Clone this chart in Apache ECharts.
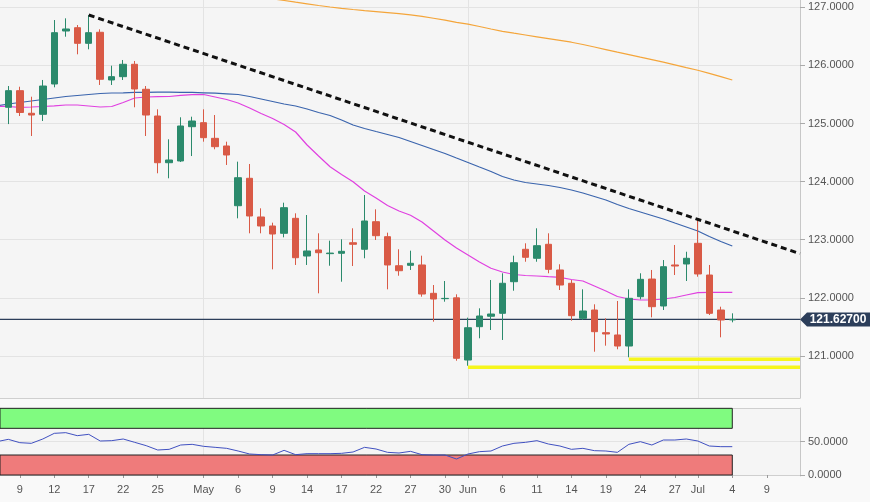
<!DOCTYPE html>
<html><head><meta charset="utf-8">
<script src="https://cdn.jsdelivr.net/npm/echarts@6/dist/echarts.min.js"></script>
<style>html,body{margin:0;padding:0;background:#f9f9f9}#c{width:870px;height:502px}</style>
</head><body><div id="c"></div><script>
// trading days (MM-DD, 2019)
const dates = ['04-05','04-08','04-09','04-10','04-11','04-12','04-15','04-16','04-17','04-18','04-19',
'04-22','04-23','04-24','04-25','04-26','04-29','04-30','05-01','05-02','05-03',
'05-06','05-07','05-08','05-09','05-10','05-13','05-14','05-15','05-16','05-17',
'05-20','05-21','05-22','05-23','05-24','05-27','05-28','05-29','05-30','05-31',
'06-03','06-04','06-05','06-06','06-07','06-10','06-11','06-12','06-13','06-14',
'06-17','06-18','06-19','06-20','06-21','06-24','06-25','06-26','06-27','06-28',
'07-01','07-02','07-03','07-04','07-05','07-08','07-09','07-10','07-11'];

const candleStart = '04-08';
const openP  = [125.279,125.565,125.176,125.158,125.680,126.592,126.649,126.380,126.570,125.749,
125.806,126.019,125.589,125.129,124.325,124.355,124.945,125.014,124.745,124.613,
123.585,124.057,123.391,123.236,123.110,123.368,122.719,122.823,122.760,122.766,
122.948,122.835,123.310,123.052,122.552,122.559,122.565,122.077,121.985,121.999,
120.929,121.503,121.682,121.733,122.277,122.835,122.680,122.921,122.479,122.250,
121.647,121.790,121.400,121.360,121.170,122.019,122.323,121.859,122.565,122.582,
122.938,122.392,121.790,121.620];
const closeP = [125.565,125.190,125.146,125.645,126.563,126.627,126.380,126.563,125.761,125.806,
126.019,125.594,125.146,124.325,124.372,124.957,125.043,124.756,124.601,124.458,
124.067,123.408,123.236,123.098,123.551,122.690,122.806,122.776,122.770,122.800,
122.921,123.322,123.069,122.565,122.466,122.594,122.065,121.979,121.990,120.959,
121.485,121.687,121.721,122.250,122.604,122.697,122.897,122.490,122.220,121.692,
121.773,121.417,121.377,121.170,121.991,122.318,121.847,122.535,122.547,122.680,
122.410,121.733,121.618,121.627];
const lowP   = [124.990,125.129,124.785,125.043,125.623,126.494,126.191,126.277,125.663,125.663,
125.749,125.279,124.785,124.143,124.057,124.337,124.440,124.687,124.556,124.286,
123.368,123.110,123.110,122.490,123.041,122.565,122.565,122.077,122.552,122.277,
122.547,122.680,122.995,122.146,122.380,122.479,122.019,121.589,121.933,120.917,
120.831,121.303,121.446,121.274,122.122,122.621,122.621,122.422,122.134,121.606,
121.618,121.072,121.176,121.114,120.976,121.974,121.664,121.790,122.392,122.289,
122.363,121.704,121.320,121.578];
const highP  = [125.645,125.633,125.461,125.749,126.781,126.810,126.695,126.867,126.621,125.995,
126.093,126.076,125.645,125.244,124.728,125.107,125.117,125.244,125.146,124.687,
124.343,124.303,123.540,123.293,123.637,123.454,123.425,123.110,122.983,123.007,
123.196,123.769,123.523,123.121,122.835,122.811,122.725,122.220,122.289,122.060,
121.658,121.819,122.306,122.422,122.725,122.938,123.196,123.110,122.577,122.306,
122.146,121.888,121.647,121.945,122.146,122.422,122.479,122.650,122.909,122.793,
123.339,122.565,121.847,121.733];

const maStart = '04-05';
const maFast = [125.293,125.293,125.279,125.284,125.293,125.305,125.318,125.318,125.301,125.284,
125.293,125.361,125.439,125.456,125.461,125.465,125.485,125.497,125.499,125.456,
125.413,125.353,125.267,125.172,125.086,124.983,124.854,124.630,124.441,124.256,
124.122,123.998,123.838,123.718,123.589,123.494,123.420,123.305,123.150,122.995,
122.857,122.737,122.616,122.508,122.444,122.401,122.384,122.375,122.363,122.353,
122.315,122.289,122.203,122.117,122.022,121.979,121.962,121.962,121.979,122.005,
122.048,122.088,122.095,122.095,122.095];
const maMid = [125.301,125.336,125.361,125.387,125.413,125.439,125.465,125.482,125.499,125.516,
125.525,125.528,125.534,125.537,125.539,125.539,125.537,125.534,125.528,125.522,
125.511,125.499,125.465,125.422,125.379,125.336,125.301,125.250,125.189,125.138,
125.060,124.974,124.914,124.862,124.811,124.759,124.690,124.621,124.552,124.484,
124.406,124.329,124.251,124.174,124.088,124.028,123.985,123.959,123.933,123.898,
123.855,123.804,123.744,123.683,123.606,123.537,123.477,123.417,123.356,123.287,
123.219,123.150,123.055,122.969,122.892];
const maSlowStart = '05-06';
const maSlow = [127.229,127.200,127.172,127.146,127.117,127.088,127.060,127.031,127.005,126.983,
126.962,126.943,126.926,126.909,126.892,126.869,126.843,126.812,126.778,126.742,
126.709,126.670,126.627,126.587,126.554,126.523,126.492,126.461,126.430,126.399,
126.360,126.317,126.272,126.227,126.186,126.141,126.100,126.055,126.010,125.962,
125.916,125.862,125.807,125.749];

const rsiStart = '04-05';
const rsi = [50,53.5,48.5,47.5,54,62.5,63.5,59,61,51,
51.5,54,49,44,37.5,38.5,45,46,43,41.5,
40,36,31.5,30.5,30,37,30.5,32,32,32,
32.5,34.5,41.5,39,34,33,35.5,30.5,30,30,
24,31.5,35,36,43.5,47.5,49,51.5,46.5,43.5,
38.5,40,36.5,36,34,46,50,45,52.5,52.5,
54,51,43.5,42.5,42.5];

const currentPrice = 121.627;
const trendStart = '04-17', trendStartValue = 126.867, trendEndValue = 122.76;
const supportA = {from: '06-03', value: 120.804};
const supportB = {from: '06-21', value: 120.942};
const bandEnd = '07-04';

const yTicks = [121,122,123,124,125,126,127];
const rsiTicks = [0,50];
const tickDates = ['04-09','04-12','04-17','04-22','04-25','05-01','05-06','05-09','05-14','05-17','05-22','05-27','05-30','06-03','06-06','06-11','06-14','06-19','06-24','06-27','07-01','07-04','07-09'];
const tickLabels = ['9','12','17','22','25','May','6','9','14','17','22','27','30','Jun','6','11','14','19','24','27','Jul','4','9'];
const monthStarts = ['05-01','06-03','07-01'];

// ---- build ----
const idx = d => { const i = dates.indexOf(d); return i >= 0 ? i : dates.length + ['07-09','07-10','07-11'].indexOf(d); };
const tickIdx = tickDates.map(d => d === '07-09' ? 67 : idx(d));
const monthIdx = monthStarts.map(idx);
const X_MIN = 0.2778, X_MAX = 69.892;
const c0 = idx(candleStart);
const candles = openP.map((o, k) => [c0 + k, o, closeP[k], lowP[k], highP[k]]);
const m0 = idx(maStart);
const fastData = maFast.map((v, k) => [m0 + k, v]);
const midData = maMid.map((v, k) => [m0 + k, v]);
const s0 = idx(maSlowStart);
const slowData = maSlow.map((v, k) => [s0 + k, v]);
const r0 = idx(rsiStart);
const rsiData = rsi.map((v, k) => [r0 + k, v]);

const font = 'Liberation Sans, Arial, sans-serif';
const UP = '#2b8a6c', DOWN = '#d95a46';
const gridLine = '#e3e3e3';

const chart = echarts.init(document.getElementById('c'), null, {renderer: 'canvas'});
chart.setOption({
  animation: false,
  backgroundColor: '#f9f9f9',
  textStyle: {fontFamily: font},
  grid: [
    {left: 0, top: 0, width: 800, height: 398, show: true, backgroundColor: '#f5f5f5', borderWidth: 0},
    {left: 0, top: 408, width: 800, height: 68, show: true, backgroundColor: '#f5f5f5', borderWidth: 0}
  ],
  xAxis: [
    {type: 'value', gridIndex: 0, min: X_MIN, max: X_MAX,
     axisLine: {show: true, lineStyle: {color: '#cfcfcf'}},
     axisTick: {show: false, customValues: monthIdx},
     axisLabel: {show: false, customValues: monthIdx},
     splitLine: {show: true, lineStyle: {color: gridLine}}},
    {type: 'value', gridIndex: 1, min: X_MIN, max: X_MAX, position: 'bottom',
     axisLine: {show: true, lineStyle: {color: '#cfcfcf'}},
     axisTick: {show: true, length: 3, customValues: tickIdx, lineStyle: {color: '#999'}},
     axisLabel: {show: true, customValues: tickIdx, color: '#555', fontSize: 11, fontFamily: font, margin: 8,
       formatter: v => { const k = tickIdx.indexOf(Math.round(v)); return k >= 0 ? tickLabels[k] : ''; }},
     splitLine: {show: false}},
    {type: 'value', gridIndex: 1, min: X_MIN, max: X_MAX, position: 'top',
     axisLine: {show: true, lineStyle: {color: '#cfcfcf'}},
     axisTick: {show: false, customValues: monthIdx},
     axisLabel: {show: false, customValues: monthIdx},
     splitLine: {show: true, lineStyle: {color: gridLine}}}
  ],
  yAxis: [
    {type: 'value', gridIndex: 0, position: 'right', min: 120.2754, max: 127.1256,
     axisLine: {show: true, lineStyle: {color: '#c8c8c8'}},
     axisTick: {show: true, length: 5, customValues: yTicks, lineStyle: {color: '#aaa'}},
     axisLabel: {customValues: yTicks, color: '#555', fontSize: 11, fontFamily: font, margin: 8,
       formatter: v => v.toFixed(4)},
     splitLine: {show: true, lineStyle: {color: gridLine}}},
    {type: 'value', gridIndex: 1, position: 'right', min: -1.5, max: 100.5,
     axisLine: {show: true, lineStyle: {color: '#c8c8c8'}},
     axisTick: {show: true, length: 5, customValues: rsiTicks, lineStyle: {color: '#aaa'}},
     axisLabel: {customValues: rsiTicks, color: '#555', fontSize: 11, fontFamily: font, margin: 8,
       formatter: v => v.toFixed(4)},
     splitLine: {show: true, lineStyle: {color: gridLine}}}
  ],
  series: [
    {type: 'line', name: 'MA200', xAxisIndex: 0, yAxisIndex: 0, data: slowData, symbol: 'none',
     lineStyle: {color: '#f4a53a', width: 1.2}, z: 2, silent: true},
    {type: 'line', name: 'MA50', xAxisIndex: 0, yAxisIndex: 0, data: midData, symbol: 'none',
     lineStyle: {color: '#3a64ad', width: 1.2}, z: 2, silent: true},
    {type: 'line', name: 'MA20', xAxisIndex: 0, yAxisIndex: 0, data: fastData, symbol: 'none',
     lineStyle: {color: '#e040e0', width: 1.2}, z: 2, silent: true},
    {type: 'line', name: 'price', xAxisIndex: 0, yAxisIndex: 0,
     data: [[X_MIN, currentPrice], [X_MAX, currentPrice]], symbol: 'none',
     lineStyle: {color: '#2c3e5a', width: 1.2}, z: 3, silent: true},
    {type: 'candlestick', xAxisIndex: 0, yAxisIndex: 0, data: candles,
     encode: {x: 0, y: [1, 2, 3, 4]}, barWidth: 7,
     itemStyle: {color: UP, color0: DOWN, borderColor: UP, borderColor0: DOWN, borderWidth: 1},
     z: 4, silent: true},
    {type: 'line', name: 'trend', xAxisIndex: 0, yAxisIndex: 0,
     data: [[idx(trendStart), trendStartValue], [X_MAX, trendEndValue]], symbol: 'none',
     lineStyle: {color: '#111', width: 3, type: [6, 4]}, z: 5, silent: true},
    {type: 'line', name: 'supportA', xAxisIndex: 0, yAxisIndex: 0,
     data: [[idx(supportA.from), supportA.value], [X_MAX, supportA.value]], symbol: 'none',
     lineStyle: {color: '#f6f61c', width: 3.5}, z: 5, silent: true},
    {type: 'line', name: 'supportB', xAxisIndex: 0, yAxisIndex: 0,
     data: [[idx(supportB.from), supportB.value], [X_MAX, supportB.value]], symbol: 'none',
     lineStyle: {color: '#f6f61c', width: 3.5}, z: 5, silent: true},
    {type: 'scatter', xAxisIndex: 0, yAxisIndex: 0, clip: false, z: 20, silent: true,
     data: [[X_MAX, currentPrice]],
     symbol: 'path://M0,7L7,0L70,0L70,14L7,14Z', symbolSize: [70, 14], symbolKeepAspect: false,
     symbolOffset: ['50%', 0],
     itemStyle: {color: '#2c3e5a', opacity: 1},
     label: {show: true, position: 'inside', offset: [3, 0], color: '#fff', fontSize: 12, fontWeight: 'bold',
       fontFamily: font, formatter: () => currentPrice.toFixed(5)}},
    {type: 'line', name: 'RSI', xAxisIndex: 1, yAxisIndex: 1, data: rsiData, symbol: 'none',
     lineStyle: {color: '#4050c0', width: 1}, z: 5, silent: true,
     markArea: {silent: true, label: {show: false},
       itemStyle: {borderColor: '#222', borderWidth: 1},
       data: [
         [{coord: [0, 70], itemStyle: {color: '#80fb80'}}, {coord: [idx(bandEnd), 100]}],
         [{coord: [0, 0], itemStyle: {color: '#ef7b7b'}}, {coord: [idx(bandEnd), 30]}]
       ]}}
  ]
});
</script></body></html>
